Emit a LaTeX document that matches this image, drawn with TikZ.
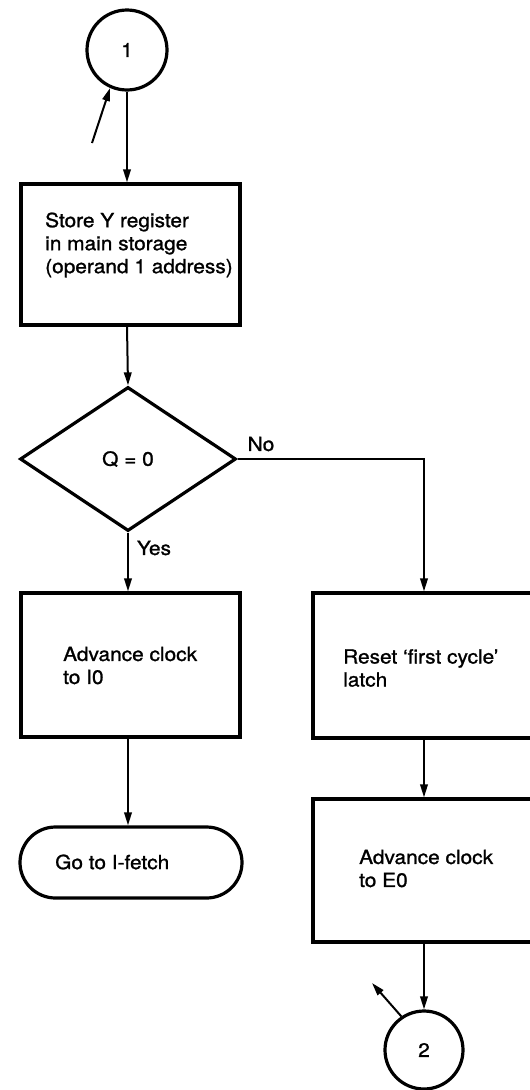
\documentclass[tikz,border=0pt]{standalone}
\usepackage{fontspec}
\setmainfont{TeX Gyre Heros}[FakeStretch=1.07,FakeBold=1.2]
\usetikzlibrary{shapes.geometric,shapes.misc,arrows.meta}

\begin{document}
\begin{tikzpicture}[x=1pt,y=-1pt,
  every node/.style={font=\fontsize{19.5}{23}\selectfont},
  blk/.style={draw,line width=3.2pt,rectangle,inner sep=0pt},
  conn/.style={line width=2pt,-{Triangle[length=13pt,width=7.5pt]}},
  lbl/.style={anchor=west,align=left,inner sep=0pt}
]
\useasboundingbox (0,0) rectangle (530,1090);
\clip (0,0) rectangle (530,1090);

% connector circles
\node[draw,circle,line width=3.2pt,minimum size=80pt,inner sep=0pt] (c1) at (127,50) {1};
\node[draw,circle,line width=3.2pt,minimum size=78pt,inner sep=0pt] (c2) at (424,1050) {2};

% process boxes
\node[blk,minimum width=219pt,minimum height=141pt] (b1) at (130.5,254.5) {};
\node[lbl] (b1t) at (45,245) {Store Y register\\in main storage\\(operand 1 address)};

\node[draw,diamond,line width=3.2pt,minimum width=216pt,minimum height=144pt,inner sep=0pt] (d) at (128,459) {Q = 0};

\node[blk,minimum width=219pt,minimum height=144pt] (b2) at (130.5,665) {};
\node[lbl] (b2t) at (63,665.5) {Advance clock\\to I0};

\node[blk,minimum width=222pt,minimum height=145pt] (b3) at (424,665.5) {};
\node[lbl] (b3t) at (343,668) {Reset ‘first cycle’\\latch};

\node[blk,minimum width=222pt,minimum height=143pt] (b4) at (424,870.5) {};
\node[lbl] (b4t) at (359,868.5) {Advance clock\\to E0};

% terminal
\node[draw,rounded rectangle,line width=3.2pt,minimum width=222pt,minimum height=71pt,inner sep=0pt] (t) at (131,862.5) {};
\node[lbl] (tt) at (55,862) {Go to I-fetch};

% branch labels
\node[inner sep=0pt] (no) at (261,444) {No};
\node[inner sep=0pt] (yes) at (154,548) {Yes};

% free ends
\coordinate (in1) at (92,143);
\coordinate (out2) at (372,983);

% connectors
\draw[conn] (in1) -- (c1.246);
\draw[conn] (c1.south) -- (c1.south |- b1.north);
\draw[conn] (c1.south |- b1.south) -- (d.north);
\draw[conn] (d.east) -| (b3.north);
\draw[conn] (d.south) -- (d.south |- b2.north);
\draw[conn] (d.south |- b2.south) -- (d.south |- t.north);
\draw[conn] (b3.south) -- (b4.north);
\draw[conn] (b4.south) -- (c2.north);
\draw[conn] (c2.124) -- (out2);
\end{tikzpicture}
\end{document}
